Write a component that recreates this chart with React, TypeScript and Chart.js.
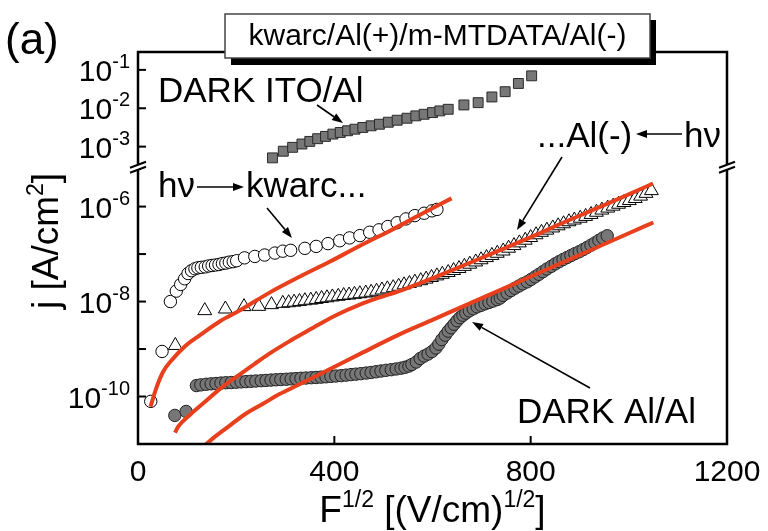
import React, { useEffect, useRef } from 'react';
import { Chart, registerables } from 'chart.js';

Chart.register(...registerables);

const FONT = '"Liberation Sans", Arial, Helvetica, sans-serif';
const RED = '#e8401c';
const GRAY = '#777777';

// DARK ITO/Al (upper segment)
const itoX = [274, 296, 315, 334, 350, 366, 382, 397, 412, 427, 442, 458, 475, 492, 510, 528, 548, 566, 583, 600, 615, 632, 664, 693, 721, 748, 775, 802];
const itoJ = [5.1e-4, 7.6e-4, 9.6e-4, 1.17e-3, 1.37e-3, 1.61e-3, 1.85e-3, 2.12e-3, 2.34e-3, 2.59e-3, 2.85e-3, 3.16e-3, 3.49e-3, 3.84e-3, 4.33e-3, 4.88e-3, 5.5e-3, 6.34e-3, 6.97e-3, 7.71e-3, 8.53e-3, 9.4e-3, 1.22e-2, 1.4e-2, 1.97e-2, 2.7e-2, 4.43e-2, 7.0e-2];

// hv -> kwarc... (open circles)
const kwX = [26, 49, 66, 78, 87, 95, 102, 109, 116, 122, 129, 137, 144, 151, 158, 165, 172, 179, 186, 194, 201, 217, 238, 258, 279, 295, 311, 340, 363, 387, 411, 431, 452, 472, 491, 509, 528, 546, 564, 583, 599, 609];
const kwJ = [7.9e-11, 8.9e-10, 1.0e-8, 1.66e-8, 2.29e-8, 3.02e-8, 3.89e-8, 4.47e-8, 4.9e-8, 5.13e-8, 5.25e-8, 5.37e-8, 5.62e-8, 5.75e-8, 5.89e-8, 6.03e-8, 6.31e-8, 6.46e-8, 6.76e-8, 6.92e-8, 7.24e-8, 8.32e-8, 8.91e-8, 9.55e-8, 1.05e-7, 1.15e-7, 1.2e-7, 1.32e-7, 1.45e-7, 1.66e-7, 1.91e-7, 2.19e-7, 2.45e-7, 2.88e-7, 3.24e-7, 3.8e-7, 4.57e-7, 5.5e-7, 6.46e-7, 7.24e-7, 8.13e-7, 8.71e-7];

// ...Al(-) <- hv (open triangles)
const alX = [76, 136, 178, 216, 246, 272, 295, 307, 318, 329, 340, 352, 363, 374, 385, 396, 408, 419, 430, 441, 452, 464, 475, 486, 497, 508, 520, 531, 542, 553, 564, 576, 587, 598, 609, 620, 632, 643, 654, 665, 676, 688, 699, 710, 721, 732, 744, 755, 766, 777, 789, 800, 811, 822, 833, 845, 856, 867, 878, 889, 901, 912, 923, 934, 945, 957, 968, 979, 990, 1001, 1013, 1024, 1035, 1046];
const alJ = [1.19e-9, 6.44e-9, 6.97e-9, 7.82e-9, 7.93e-9, 8.61e-9, 9.17e-9, 9.44e-9, 9.71e-9, 1.005e-8, 1.04e-8, 1.07e-8, 1.11e-8, 1.16e-8, 1.2e-8, 1.25e-8, 1.29e-8, 1.34e-8, 1.37e-8, 1.42e-8, 1.46e-8, 1.51e-8, 1.57e-8, 1.65e-8, 1.75e-8, 1.85e-8, 1.96e-8, 2.1e-8, 2.25e-8, 2.4e-8, 2.57e-8, 2.75e-8, 2.97e-8, 3.21e-8, 3.47e-8, 3.75e-8, 4.09e-8, 4.5e-8, 4.96e-8, 5.51e-8, 6.12e-8, 6.82e-8, 7.59e-8, 8.43e-8, 9.37e-8, 1.04e-7, 1.16e-7, 1.33e-7, 1.51e-7, 1.72e-7, 1.96e-7, 2.23e-7, 2.55e-7, 2.87e-7, 3.19e-7, 3.55e-7, 3.94e-7, 4.35e-7, 4.79e-7, 5.21e-7, 5.69e-7, 6.21e-7, 6.83e-7, 7.6e-7, 8.45e-7, 9.3e-7, 1.02e-6, 1.12e-6, 1.22e-6, 1.34e-6, 1.48e-6, 1.66e-6, 1.9e-6, 2.17e-6];

// DARK Al/Al (filled circles)
const dkX = [75, 98, 119, 128, 139, 149, 159, 169, 179, 190, 200, 210, 220, 230, 240, 251, 261, 271, 281, 291, 302, 312, 322, 332, 342, 353, 363, 373, 383, 393, 403, 414, 424, 434, 444, 454, 465, 475, 485, 495, 505, 516, 526, 536, 544, 552, 558, 567, 575, 583, 591, 599, 607, 613, 619, 626, 632, 638, 644, 650, 656, 662, 668, 675, 683, 691, 699, 707, 715, 723, 732, 738, 744, 752, 760, 768, 776, 784, 793, 801, 809, 817, 825, 833, 842, 850, 858, 866, 874, 882, 890, 899, 907, 915, 923, 931, 939, 947, 956];
const dkJ = [4.0e-11, 4.85e-11, 1.7e-10, 1.76e-10, 1.81e-10, 1.85e-10, 1.88e-10, 1.92e-10, 1.95e-10, 1.97e-10, 2.0e-10, 2.03e-10, 2.06e-10, 2.09e-10, 2.12e-10, 2.15e-10, 2.18e-10, 2.22e-10, 2.25e-10, 2.28e-10, 2.31e-10, 2.35e-10, 2.38e-10, 2.42e-10, 2.45e-10, 2.49e-10, 2.52e-10, 2.56e-10, 2.6e-10, 2.65e-10, 2.7e-10, 2.75e-10, 2.82e-10, 2.89e-10, 2.96e-10, 3.03e-10, 3.12e-10, 3.21e-10, 3.32e-10, 3.44e-10, 3.56e-10, 3.67e-10, 3.8e-10, 3.95e-10, 4.13e-10, 4.38e-10, 4.72e-10, 5.33e-10, 6.31e-10, 7.11e-10, 7.83e-10, 8.85e-10, 1.05e-9, 1.27e-9, 1.58e-9, 1.96e-9, 2.38e-9, 2.81e-9, 3.33e-9, 3.94e-9, 4.56e-9, 5.14e-9, 5.71e-9, 6.38e-9, 7.03e-9, 7.74e-9, 8.32e-9, 8.95e-9, 9.53e-9, 1.02e-8, 1.1e-8, 1.19e-8, 1.35e-8, 1.51e-8, 1.7e-8, 1.91e-8, 2.12e-8, 2.36e-8, 2.6e-8, 2.92e-8, 3.31e-8, 3.75e-8, 4.25e-8, 4.84e-8, 5.51e-8, 6.22e-8, 6.92e-8, 7.66e-8, 8.43e-8, 9.29e-8, 1.02e-7, 1.12e-7, 1.24e-7, 1.38e-7, 1.54e-7, 1.72e-7, 1.95e-7, 2.18e-7, 2.43e-7];

// fit curves (red)
const fit1X = [25.5, 36.7, 50.9, 67.2, 95.8, 126.3, 167.1, 207.8, 268.9, 330.1, 391.2, 452.3, 513.5, 574.6, 638.8];
const fit1J = [6.08e-11, 1.45e-10, 3.29e-10, 5.6e-10, 1.15e-9, 1.96e-9, 3.85e-9, 6.55e-9, 1.56e-8, 3.37e-8, 6.95e-8, 1.5e-7, 3.1e-7, 6.7e-7, 1.49e-6];
const fit2X = [75.4, 81.5, 106.0, 135.9, 167.1, 203.8, 238.4, 271.6, 305.6, 339.7, 372.9, 407.5, 448.3, 489.0, 533.8, 601.1, 670.3, 737.6, 804.8, 865.9, 927.1, 988.2, 1049.3];
const fit2J = [1.74e-11, 2.29e-11, 4.14e-11, 7.64e-11, 1.45e-10, 2.75e-10, 4.95e-10, 8.51e-10, 1.4e-9, 2.23e-9, 3.49e-9, 5.4e-9, 8.32e-9, 1.19e-8, 1.68e-8, 3.13e-8, 6.17e-8, 1.21e-7, 2.38e-7, 4.56e-7, 8.53e-7, 1.6e-6, 3.06e-6];
const fit3X = [136.5, 156.9, 187.5, 218.0, 254.7, 289.3, 324.0, 391.2, 458.4, 533.8, 601.1, 670.3, 737.6, 804.8, 874.1, 941.3, 1002.4, 1049.9];
const fit3J = [9.4e-12, 1.43e-11, 2.47e-11, 4.24e-11, 7.03e-11, 1.14e-10, 1.7e-10, 3.8e-10, 8.51e-10, 2.06e-9, 4.16e-9, 8.61e-9, 1.74e-8, 3.54e-8, 7.29e-8, 1.48e-7, 2.81e-7, 4.62e-7];

// ticks
const xTickValues = [0, 400, 800, 1200];
const xTickLabels = ['0', '400', '800', '1200'];
const upperTickValues = [1e-1, 1e-2, 1e-3];
const upperTickExps = ['-1', '-2', '-3'];
const lowerTickValues = [1e-6, 1e-7, 1e-8, 1e-9, 1e-10];
const lowerTickExps = ['-6', '', '-8', '', '-10'];

const pts = (xs: number[], ys: number[]) => xs.map((x, i) => ({ x, y: ys[i] }));

type Part = [string, boolean];

function drawParts(ctx: CanvasRenderingContext2D, parts: Part[], x: number, y: number, size: number, supSize: number, supRise: number, align: string) {
  const widths = parts.map(([t, sup]) => {
    ctx.font = `${sup ? supSize : size}px ${FONT}`;
    return ctx.measureText(t).width;
  });
  const total = widths.reduce((a, b) => a + b, 0);
  let cx = align === 'center' ? x - total / 2 : align === 'right' ? x - total : x;
  ctx.textAlign = 'left';
  ctx.textBaseline = 'alphabetic';
  parts.forEach(([t, sup], i) => {
    ctx.font = `${sup ? supSize : size}px ${FONT}`;
    ctx.fillText(t, cx, sup ? y - supRise : y);
    cx += widths[i];
  });
}

function arrow(ctx: CanvasRenderingContext2D, x1: number, y1: number, x2: number, y2: number) {
  const a = Math.atan2(y2 - y1, x2 - x1);
  const L = 11, W = 4;
  const bx = x2 - L * Math.cos(a), by = y2 - L * Math.sin(a);
  ctx.lineWidth = 1.6;
  ctx.beginPath();
  ctx.moveTo(x1, y1);
  ctx.lineTo(bx, by);
  ctx.stroke();
  ctx.beginPath();
  ctx.moveTo(x2, y2);
  ctx.lineTo(bx + W * Math.sin(a), by - W * Math.cos(a));
  ctx.lineTo(bx - W * Math.sin(a), by + W * Math.cos(a));
  ctx.closePath();
  ctx.fill();
}

function text(ctx: CanvasRenderingContext2D, s: string, x: number, y: number, size: number, align: CanvasTextAlign = 'left') {
  ctx.font = `${size}px ${FONT}`;
  ctx.textAlign = align;
  ctx.textBaseline = 'alphabetic';
  ctx.fillText(s, x, y);
}

const decorPlugin = {
  id: 'decor',
  afterDraw(chart: any) {
    const ctx: CanvasRenderingContext2D = chart.ctx;
    const xs = chart.scales.x, yl = chart.scales.y, yu = chart.scales.y2;
    const { left, right, top, bottom } = chart.chartArea;
    ctx.save();
    ctx.fillStyle = '#000';
    ctx.strokeStyle = '#000';
    // frame
    ctx.lineWidth = 2.5;
    ctx.beginPath();
    ctx.rect(left, top, right - left, bottom - top);
    ctx.stroke();

    // x ticks & labels
    ctx.lineWidth = 2;
    xTickValues.forEach((v, i) => {
      const px = xs.getPixelForValue(v);
      ctx.beginPath();
      ctx.moveTo(px, bottom);
      ctx.lineTo(px, bottom - 8);
      ctx.stroke();
      text(ctx, xTickLabels[i], px, 481, 30, 'center');
    });

    // y ticks & labels
    const yTick = (scale: any, v: number, exp: string) => {
      const py = scale.getPixelForValue(v);
      ctx.lineWidth = 2;
      ctx.beginPath();
      ctx.moveTo(left, py);
      ctx.lineTo(left + 8, py);
      ctx.stroke();
      if (exp) drawParts(ctx, [['10', false], [exp, true]], 130, py + 11, 30, 20, 13, 'right');
    };
    upperTickValues.forEach((v, i) => yTick(yu, v, upperTickExps[i]));
    lowerTickValues.forEach((v, i) => yTick(yl, v, lowerTickExps[i]));

    // axis break marks
    const yb = yl.top;
    [left, right].forEach((bx) => {
      ctx.fillStyle = '#fff';
      ctx.fillRect(bx - 2, yb - 2, 4, 5);
      ctx.fillStyle = '#000';
      ctx.lineWidth = 2;
      ctx.beginPath();
      ctx.moveTo(bx - 8, yb + 1);
      ctx.lineTo(bx + 8, yb - 5);
      ctx.moveTo(bx - 8, yb + 6);
      ctx.lineTo(bx + 8, yb);
      ctx.stroke();
    });

    // axis titles
    drawParts(ctx, [['F', false], ['1/2', true], [' [(V/cm)', false], ['1/2', true], [']', false]], (left + right) / 2, 522, 37, 23, 15, 'center');
    ctx.save();
    ctx.translate(58, 241);
    ctx.rotate(-Math.PI / 2);
    drawParts(ctx, [['j [A/cm', false], ['2', true], [']', false]], 0, 0, 37, 23, 15, 'center');
    ctx.restore();

    // panel label
    text(ctx, '(a)', 5, 54, 44);

    // title box
    ctx.fillStyle = '#000';
    ctx.fillRect(231, 20, 425, 45);
    ctx.fillStyle = '#fff';
    ctx.fillRect(225, 14, 425, 44);
    ctx.strokeStyle = '#444';
    ctx.lineWidth = 1.5;
    ctx.strokeRect(225, 14, 425, 44);
    ctx.fillStyle = '#000';
    ctx.strokeStyle = '#000';
    text(ctx, 'kwarc/Al(+)/m-MTDATA/Al(-)', 437.5, 45, 30, 'center');

    // annotations
    text(ctx, 'DARK ITO/Al', 158, 102, 35);
    arrow(ctx, 317, 105, 343, 123);

    text(ctx, 'h\u03bd', 158, 197, 35);
    arrow(ctx, 197, 187, 244, 187);
    text(ctx, 'kwarc...', 246, 197, 35);
    arrow(ctx, 267, 208, 292, 238);

    text(ctx, '...Al(-)', 537, 147, 35);
    arrow(ctx, 682, 134, 636, 134);
    text(ctx, 'h\u03bd', 684, 147, 35);
    arrow(ctx, 562, 157, 517, 230);

    text(ctx, 'DARK Al/Al', 517, 423, 35);
    arrow(ctx, 590, 388, 472, 322);

    ctx.restore();
  },
};

export default function App() {
  const ref = useRef<HTMLCanvasElement>(null);
  useEffect(() => {
    const hidden = {
      display: true,
      ticks: { display: false },
      grid: { display: false, drawTicks: false },
      border: { display: false },
      title: { display: false },
    };
    const markerBase = { showLine: false, order: 1 };
    const chart = new Chart(ref.current as HTMLCanvasElement, {
      type: 'scatter',
      data: {
        datasets: [
          { ...markerBase, label: 'DARK ITO/Al', yAxisID: 'y2', data: pts(itoX, itoJ), pointStyle: 'rect', pointRadius: 7, backgroundColor: GRAY, borderColor: '#2a2a2a', borderWidth: 1 },
          { ...markerBase, label: 'DARK Al/Al', yAxisID: 'y', data: pts(dkX, dkJ), pointStyle: 'circle', pointRadius: 6.2, backgroundColor: GRAY, borderColor: '#222', borderWidth: 1 },
          { ...markerBase, label: 'hv->kwarc', yAxisID: 'y', data: pts(kwX, kwJ), pointStyle: 'circle', pointRadius: 6.2, backgroundColor: '#fff', borderColor: '#000', borderWidth: 1 },
          { ...markerBase, label: 'Al(-)<-hv', yAxisID: 'y', data: pts(alX, alJ), pointStyle: 'triangle', pointRadius: 8, backgroundColor: '#fff', borderColor: '#000', borderWidth: 1 },
          { label: 'fit1', yAxisID: 'y', data: pts(fit1X, fit1J), showLine: true, pointRadius: 0, borderColor: RED, borderWidth: 4, cubicInterpolationMode: 'monotone', order: 0 },
          { label: 'fit2', yAxisID: 'y', data: pts(fit2X, fit2J), showLine: true, pointRadius: 0, borderColor: RED, borderWidth: 4, cubicInterpolationMode: 'monotone', order: 0 },
          { label: 'fit3', yAxisID: 'y', data: pts(fit3X, fit3J), showLine: true, pointRadius: 0, borderColor: RED, borderWidth: 4, cubicInterpolationMode: 'monotone', order: 0 },
        ] as any,
      },
      options: {
        animation: false,
        responsive: false,
        events: [],
        layout: { padding: { left: 138, right: 41, top: 52, bottom: 87 } },
        plugins: { legend: { display: false }, tooltip: { enabled: false } },
        scales: {
          x: { ...hidden, type: 'linear', position: 'bottom', min: 0, max: 1200 },
          y: { ...hidden, type: 'logarithmic', position: 'left', stack: 'j', stackWeight: 277.3, min: 1e-11, max: Math.pow(10, -5.16) },
          y2: { ...hidden, type: 'logarithmic', position: 'left', stack: 'j', stackWeight: 114.7, min: Math.pow(10, -3.5), max: Math.pow(10, -0.534) },
        } as any,
      },
      plugins: [decorPlugin],
    });
    return () => chart.destroy();
  }, []);
  return (
    <div style={{ position: 'absolute', left: 0, top: 0, width: 768, height: 531, background: '#fff' }}>
      <canvas ref={ref} width={768} height={531} style={{ display: 'block', width: 768, height: 531 }} />
    </div>
  );
}
